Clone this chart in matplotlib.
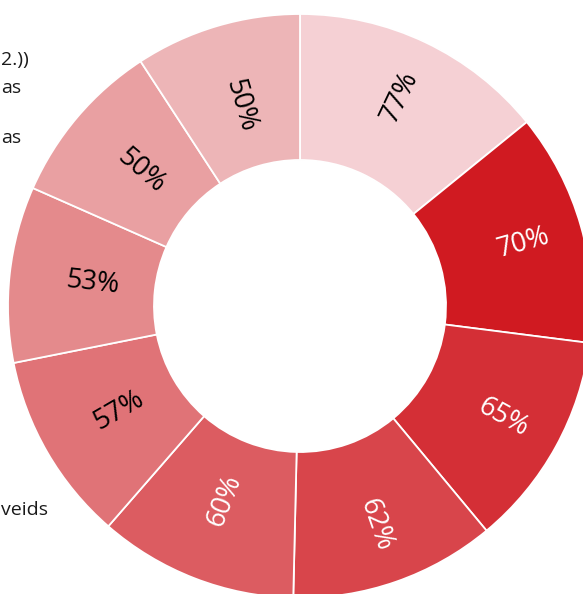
import numpy as np
import matplotlib
matplotlib.use("Agg")
import matplotlib.pyplot as plt

values = [77, 70, 65, 62, 60, 57, 53, 50, 50]
labels = ["77%", "70%", "65%", "62%", "60%", "57%", "53%", "50%", "50%"]
colors = ["#f5d0d4", "#d01a21", "#d42f36", "#d8454b", "#dc5c61",
          "#e07377", "#e48a8c", "#e9a0a2", "#edb5b7"]
text_colors = ["black", "white", "white", "white", "white",
               "black", "black", "black", "black"]
legend_fragments = ["2.))", "as", "as", "veids"]

W, H = 583, 594
fig = plt.figure(figsize=(W / 100, H / 100), dpi=100)
ax = fig.add_axes([0, 0, 1, 1])

cx, cy = 300, H - 306
R = 292
width = 146

wedges, _ = ax.pie(values, startangle=90, counterclock=False, colors=colors,
                   radius=R, center=(cx, cy),
                   wedgeprops=dict(width=width, edgecolor="white", linewidth=1.3))

font = ["Open Sans", "DejaVu Sans"]
for w, lab, tc in zip(wedges, labels, text_colors):
    mid = (w.theta1 + w.theta2) / 2
    rad = np.deg2rad(mid)
    rot = ((mid + 180) % 360) - 180
    flipped = False
    if rot > 90:
        rot -= 180
        flipped = True
    elif rot < -90:
        rot += 180
        flipped = True
    rl = 209 if flipped else 232
    x = cx + rl * np.cos(rad)
    y = cy + rl * np.sin(rad)
    ax.text(x, y, lab, rotation=rot, rotation_mode="anchor", ha="center", va="center",
            color=tc, fontsize=19.5, family=font)

frag_pos = [(1, 60), (1, 88), (1, 138), (1, 510)]
for t, (fx, fy) in zip(legend_fragments, frag_pos):
    ax.text(fx, H - fy, t, ha="left", va="center", fontsize=14, color="#1a1a1a", family=font)

ax.set_xlim(0, W)
ax.set_ylim(0, H)
ax.set_aspect("equal")
ax.axis("off")
fig.savefig("out.png", dpi=100, facecolor="white")
